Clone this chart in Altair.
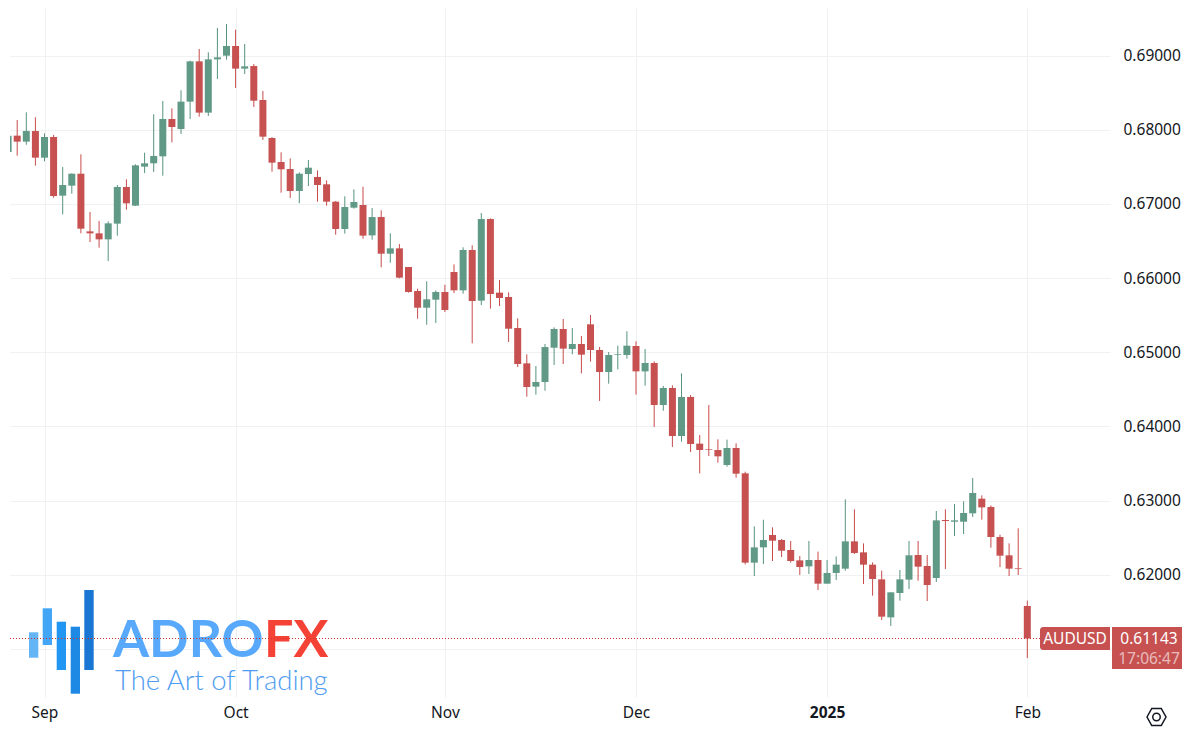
import altair as alt
import pandas as pd

# Trading-day index: 0 = 2 Sep 2024, 108 = 3 Feb 2025 (first entry is index -4)
first_index = -4
opens = [.67699,.67920,.67839,.67982,.67623,.67902,.67111,.67246,.67407,.66630,.66603,.66522,.66734,.67228,.66976,.67502,.67547,.67641,.68144,.68009,.68378,.68921,.68230,.68948,.68998,.69128,.68823,.68858,.68400,.67888,.67565,.67470,.67174,.67403,.67363,.67264,.67030,.66662,.66949,.66985,.66576,.66823,.66329,.66401,.66150,.65826,.65601,.65709,.65813,.66082,.65835,.66379,.65696,.66796,.65804,.65745,.65327,.64851,.64537,.64600,.65062,.65314,.65044,.65112,.65377,.65031,.64734,.64968,.64964,.65085,.64743,.64856,.64290,.64519,.63872,.64398,.63769,.63692,.63683,.63481,.63710,.63369,.62165,.62371,.62538,.62470,.62336,.62196,.62115,.62201,.61882,.62026,.62084,.62452,.62304,.62138,.61940,.61428,.61756,.61936,.62268,.62120,.61958,.62740,.62717,.62717,.62830,.63027,.62915,.62511,.62264,.62088,.61581]
closes = [.67920,.67839,.67982,.67623,.67902,.67106,.67255,.67407,.66666,.66603,.66522,.66738,.67228,.67008,.67520,.67547,.67646,.68144,.68036,.68378,.68921,.68230,.68948,.68975,.69128,.68823,.68854,.68391,.67906,.67556,.67466,.67174,.67407,.67488,.67255,.67030,.66662,.66958,.67026,.66572,.66823,.66329,.66401,.66006,.65813,.65601,.65714,.65813,.65570,.65835,.66379,.65691,.66796,.65786,.65732,.65318,.64842,.64532,.64600,.65071,.65314,.65049,.65112,.64968,.65031,.64734,.64964,.64977,.65089,.64743,.64856,.64290,.64519,.63872,.64398,.63764,.63683,.63683,.63598,.63710,.63364,.62165,.62371,.62470,.62461,.62326,.62187,.62106,.62201,.61882,.62026,.62138,.62452,.62295,.62138,.61945,.61437,.61765,.61940,.62264,.62111,.61864,.62735,.62726,.62735,.62834,.63104,.62910,.62511,.62259,.62084,.62079,.61143]
highs = [.68000,.68131,.68234,.68167,.67951,.67929,.67497,.67412,.67668,.66891,.66770,.66765,.67255,.67331,.67533,.67690,.68207,.68387,.68288,.68531,.68930,.69088,.69043,.69371,.69425,.69348,.69155,.68885,.68522,.67900,.67695,.67614,.67425,.67592,.67452,.67318,.67039,.67102,.67196,.67232,.66945,.66913,.66603,.66460,.66150,.65858,.65956,.65835,.65911,.66185,.66415,.66442,.66877,.66805,.65974,.65808,.65458,.64973,.64815,.65112,.65336,.65449,.65327,.65220,.65503,.65071,.65004,.65089,.65283,.65148,.65044,.64878,.64546,.64555,.64716,.64425,.63885,.64290,.63827,.63823,.63773,.63391,.62655,.62744,.62641,.62484,.62457,.62255,.62457,.62313,.62201,.62250,.63018,.62884,.62425,.62169,.62057,.61765,.62066,.62457,.62457,.62268,.62861,.62884,.62956,.62991,.63306,.63072,.62937,.62542,.62425,.62628,.61653]
lows = [.67650,.67650,.67798,.67515,.67574,.67084,.66859,.67138,.66603,.66486,.66410,.66230,.66572,.66922,.66972,.67416,.67430,.67380,.67830,.67942,.68144,.68176,.68185,.68683,.68944,.68562,.68751,.68306,.67861,.67434,.67151,.67080,.67008,.67241,.67030,.66976,.66585,.66599,.66936,.66531,.66518,.66145,.66208,.65997,.65804,.65453,.65372,.65395,.65543,.65799,.65790,.65121,.65637,.65588,.65624,.65139,.64802,.64402,.64429,.64483,.64829,.64842,.64973,.64716,.64874,.64344,.64577,.64770,.64914,.64429,.64550,.63993,.64213,.63724,.63796,.63656,.63369,.63602,.63513,.63459,.63310,.62142,.61985,.62147,.62187,.62241,.62165,.61999,.62012,.61796,.61882,.61931,.62057,.62282,.61877,.61720,.61392,.61311,.61653,.61810,.61922,.61648,.61904,.62079,.62524,.62551,.62780,.62744,.62367,.62106,.61985,.61999,.60880]

month_ticks = [0, 21, 44, 65, 86, 108]
month_names = ["Sep", "Oct", "Nov", "Dec", "2025", "Feb"]
price_ticks = [0.61, 0.62, 0.63, 0.64, 0.65, 0.66, 0.67, 0.68, 0.69]
last_price = 0.61143

symbol_label = "AUDUSD"
price_label = "0.61143"
countdown_label = "17:06:47"

RED, GREEN = "#c65150", "#609a86"
WICK_RED, WICK_GREEN = "#c94a4a", "#56927e"
FONT = "Noto Sans"
TXT = "#131722"
GRID = "#f0f1f2"

W, H = 1100, 689
OX, OY = 10, 8   # plot origin on the page


def px(v):
    return alt.value(v - OX)


def py(v):
    return alt.value(v - OY)


df = pd.DataFrame({
    "i": [first_index + k for k in range(len(opens))],
    "open": opens, "close": closes, "high": highs, "low": lows,
})
df["dir"] = ["up" if c >= o else "down" for o, c in zip(opens, closes)]

label_expr = "".join(f"datum.value=={t}?'{n}':" for t, n in zip(month_ticks, month_names)) + "''"

x_scale = alt.Scale(domain=[-34.5 / 9.1, (W - 34.5) / 9.1], nice=False, zero=False, padding=0)
x = alt.X("i:Q", scale=x_scale,
          axis=alt.Axis(values=month_ticks, labelExpr=label_expr, title=None, grid=True,
                        gridColor=GRID, gridWidth=1, domain=False, ticks=False,
                        labelPadding=8, labelFontSize=15.5, labelFont=FONT, labelColor=TXT,
                        labelFlush=False, labelOverlap=False,
                        labelFontWeight=alt.condition("datum.value == 86", alt.value("bold"), alt.value("normal"))))
y_scale = alt.Scale(domain=[0.69 + (55.5 - OY - H) / 7420, 0.69 + (55.5 - OY) / 7420], nice=False, zero=False)
y = alt.Y("low:Q", scale=y_scale,
          axis=alt.Axis(orient="right", values=price_ticks, title=None, grid=True,
                        gridColor=GRID, gridWidth=1, domain=False, ticks=False,
                        labelPadding=13, labelFontSize=15.5, labelFont=FONT, labelColor=TXT,
                        labelExpr="datum.value < 0.615 ? '' : format(datum.value, '.5f')"))

wicks = alt.Chart(df).mark_rule(strokeWidth=1, clip=True).encode(
    x=x, y=y, y2="high:Q",
    color=alt.Color("dir:N", scale=alt.Scale(domain=["down", "up"], range=[WICK_RED, WICK_GREEN]), legend=None),
)
bodies = alt.Chart(df).mark_bar(size=7, clip=True).encode(
    x=alt.X("i:Q", scale=x_scale),
    y=alt.Y("open:Q", scale=y_scale),
    y2="close:Q",
    color=alt.Color("dir:N", scale=alt.Scale(domain=["down", "up"], range=[RED, GREEN]), legend=None),
)

# logo
logo_bars = [(29, 38.3, 632.3, 657.7, "#64b5f6"), (42.7, 52, 608.3, 645, "#42a5f5"),
             (56.7, 66, 621.7, 670, "#2196f3"), (70.7, 80, 626.7, 693.7, "#1e88e5"),
             (84.3, 93.7, 590, 670, "#1976d2")]
layers = [wicks, bodies]
one = pd.DataFrame({"a": [0]})
for x0, x1, y0, y1, c in logo_bars:
    layers.append(alt.Chart(one).mark_rect(color=c).encode(x=px(x0), x2=px(x1), y=py(y0), y2=py(y1)))


def txt(s, xp, yp, size, color, align="left", weight="normal", font=FONT, baseline="alphabetic", opacity=1):
    return alt.Chart(one).mark_text(text=s, fontSize=size, color=color, align=align, fontWeight=weight,
                                    font=font, baseline=baseline, opacity=opacity).encode(x=px(xp), y=py(yp))


layers += [
    txt("ADRO", 113, 656.7, 52, "#58a9fb", weight="bold", font="Lato"),
    txt("FX", 264, 656.7, 52, "#f44336", weight="bold", font="Lato"),
    txt("The Art of Trading", 115, 690, 27.5, "#4f9cf0", weight=300, font="Lato"),
]

# last price line
layers.append(alt.Chart(pd.DataFrame({"p": [last_price]})).mark_rule(color="#d0342c", strokeWidth=1, strokeDash=[1, 2]).encode(
    y=alt.Y("p:Q", scale=y_scale), x=alt.value(0), x2=px(1040)))

# price labels
layers += [
    alt.Chart(one).mark_rect(color=RED, cornerRadiusTopLeft=3, cornerRadiusBottomLeft=3).encode(
        x=px(1040), x2=px(1110), y=py(627), y2=py(650)),
    alt.Chart(one).mark_rect(color=RED).encode(x=px(1112), x2=px(1182), y=py(627), y2=py(669)),
    txt(symbol_label, 1075, 644, 15.5, "#ffffff", align="center"),
    txt(price_label, 1149, 644, 15.5, "#ffffff", align="center"),
    txt(countdown_label, 1149, 664, 15.5, "#ffffff", align="center", opacity=0.6),
]

# settings icon
hex_path = "M-1 0 L-0.5 -0.9 L0.5 -0.9 L1 0 L0.5 0.9 L-0.5 0.9 Z"
layers += [
    alt.Chart(one).mark_point(shape=hex_path, size=361, stroke=TXT, strokeWidth=1.5, filled=False, opacity=1).encode(
        x=px(1156.5), y=py(717)),
    alt.Chart(one).mark_point(shape="circle", size=56, stroke=TXT, strokeWidth=1.5, filled=False, opacity=1).encode(
        x=px(1156.5), y=py(717)),
]

chart = alt.layer(*layers).resolve_scale(color="independent").properties(
    width=W, height=H,
    padding={"left": 2, "top": 0, "right": 72, "bottom": 36},
    autosize=alt.AutoSizeParams(type="none"),
    background="#ffffff",
).configure_view(stroke=None)

chart.save("out.html", embed_options={"renderer": "svg", "actions": False})
